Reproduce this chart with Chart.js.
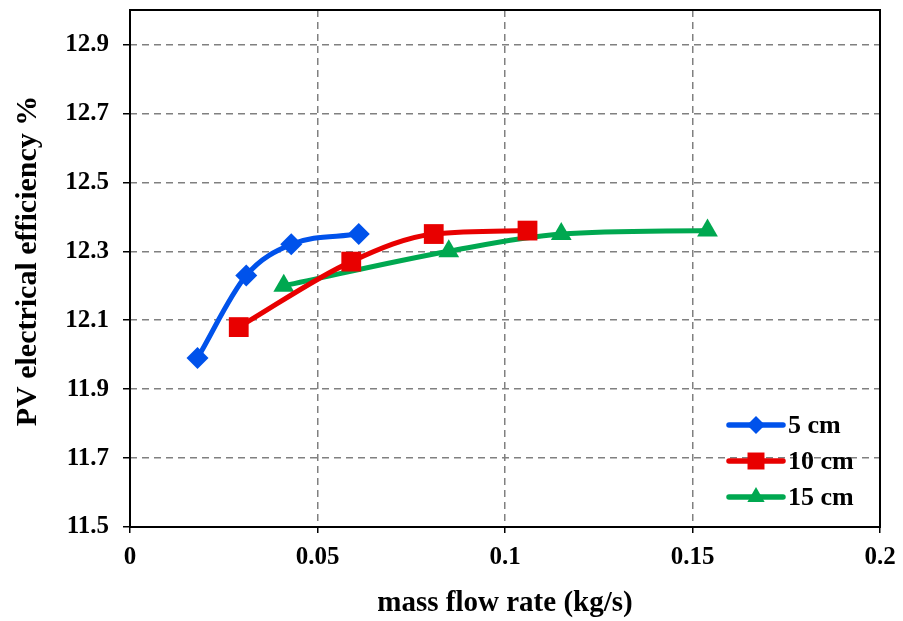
<!DOCTYPE html>
<html>
<head>
<meta charset="utf-8">
<script src="https://cdn.jsdelivr.net/npm/chart.js@4.4.1/dist/chart.umd.min.js"></script>
<style>
  html, body { margin: 0; padding: 0; background: #fff; }
  #wrap { width: 903px; height: 621px; }
</style>
</head>
<body>
<div id="wrap"><canvas id="myChart" width="903" height="621"></canvas></div>
<script>
// series values
const seriesNames = ['5 cm', '10 cm', '15 cm'];
const flow5 = [0.018, 0.031, 0.043, 0.061];
const eff5 = [11.99, 12.23, 12.32, 12.35];
const flow10 = [0.029, 0.059, 0.081, 0.106];
const eff10 = [12.08, 12.27, 12.35, 12.36];
const flow15 = [0.041, 0.085, 0.115, 0.154];
const eff15 = [12.20, 12.30, 12.35, 12.36];
const yTicks = [11.5, 11.7, 11.9, 12.1, 12.3, 12.5, 12.7, 12.9];
const xTicks = [0, 0.05, 0.1, 0.15, 0.2];

const FONT = "'Liberation Serif', 'Times New Roman', serif";

function pts(xs, ys) {
    return xs.map((x, i) => ({ x: x, y: ys[i] }));
}

const colors = ['rgb(0, 82, 235)', 'rgb(232, 0, 0)', 'rgb(0, 168, 80)'];
const shapes = ['rectRot', 'rect', 'triangle'];
const radii = [11, 14, 12];
const legendRadii = [9, 12, 10];

const data = {
    datasets: [
        { label: seriesNames[0], data: pts(flow5, eff5) },
        { label: seriesNames[1], data: pts(flow10, eff10) },
        { label: seriesNames[2], data: pts(flow15, eff15) },
    ].map((d, i) => Object.assign(d, {
        borderColor: colors[i],
        backgroundColor: colors[i],
        borderWidth: 5,
        pointStyle: shapes[i],
        pointRadius: radii[i],
        pointBorderWidth: 0,
        tension: 0.4,
        cubicInterpolationMode: 'monotone',
    }))
};

// frame round the plot area
const frame = {
    id: 'frame',
    afterDatasetsDraw(chart) {
        const a = chart.chartArea, ctx = chart.ctx;
        ctx.save();
        ctx.strokeStyle = '#000';
        ctx.lineWidth = 2;
        ctx.strokeRect(a.left, a.top, a.right - a.left, a.bottom - a.top);
        ctx.restore();
    }
};

// legend inside the plot, line + marker
const innerLegend = {
    id: 'innerLegend',
    afterDraw(chart) {
        const ctx = chart.ctx, a = chart.chartArea;
        const x0 = a.right - 151, y0 = a.bottom - 102, gap = 36;
        ctx.save();
        chart.data.datasets.forEach((ds, i) => {
            const y = y0 + i * gap;
            ctx.strokeStyle = ds.borderColor;
            ctx.lineWidth = 5.5;
            ctx.lineCap = 'round';
            ctx.beginPath();
            ctx.moveTo(x0, y);
            ctx.lineTo(x0 + 54, y);
            ctx.stroke();
            ctx.fillStyle = ds.backgroundColor;
            Chart.helpers.drawPoint(ctx, { pointStyle: ds.pointStyle, radius: legendRadii[i], borderWidth: 0 }, x0 + 27, y);
            ctx.fillStyle = '#000';
            ctx.font = 'bold 26px ' + FONT;
            ctx.textBaseline = 'middle';
            ctx.fillText(ds.label, x0 + 59, y + 1);
        });
        ctx.restore();
    }
};

const gridDash = [7, 5];

const config = {
    type: 'line',
    data: data,
    options: {
        responsive: false,
        animation: false,
        layout: { autoPadding: false, padding: { top: 10, right: 23, left: 0, bottom: 0 } },
        plugins: { legend: { display: false }, tooltip: { enabled: false } },
        scales: {
            x: {
                type: 'linear',
                min: 0,
                max: 0.2,
                afterBuildTicks(s) { s.ticks = xTicks.map(v => ({ value: v })); },
                afterFit(s) { s.height = 94; s.paddingLeft = 0; s.paddingRight = 0; },
                border: { display: false, dash: gridDash },
                grid: {
                    color: 'rgb(128,128,128)',
                    lineWidth: 1.5,
                    tickColor: '#000',
                    tickLength: 6,
                    tickWidth: 1.5,
                },
                ticks: {
                    color: '#000',
                    padding: 10,
                    maxRotation: 0,
                    font: { family: FONT, size: 25, weight: 'bold' },
                    callback: v => String(v),
                },
                title: {
                    display: true,
                    text: 'mass flow rate (kg/s)',
                    color: '#000',
                    font: { family: FONT, size: 29, weight: 'bold' },
                    padding: { top: 0, bottom: 0 },
                },
            },
            y: {
                min: 11.5,
                max: 13.0,
                afterBuildTicks(s) { s.ticks = yTicks.map(v => ({ value: v })); },
                afterFit(s) { s.width = 130; s.paddingTop = 0; s.paddingBottom = 0; },
                border: { display: false, dash: gridDash },
                grid: {
                    color: 'rgb(128,128,128)',
                    lineWidth: 1.5,
                    tickColor: '#000',
                    tickLength: 7,
                    tickWidth: 1.5,
                },
                ticks: {
                    color: '#000',
                    padding: 14,
                    font: { family: FONT, size: 25, weight: 'bold' },
                    callback: v => v.toFixed(1),
                },
                title: {
                    display: true,
                    text: '\u00A0\u00A0PV electrical efficiency %',
                    color: '#000',
                    font: { family: FONT, size: 30, weight: 'bold' },
                    padding: { top: 10, bottom: 0 },
                },
            },
        },
    },
    plugins: [frame, innerLegend],
};

var myChart = new Chart(document.getElementById('myChart'), config);
</script>
</body>
</html>
